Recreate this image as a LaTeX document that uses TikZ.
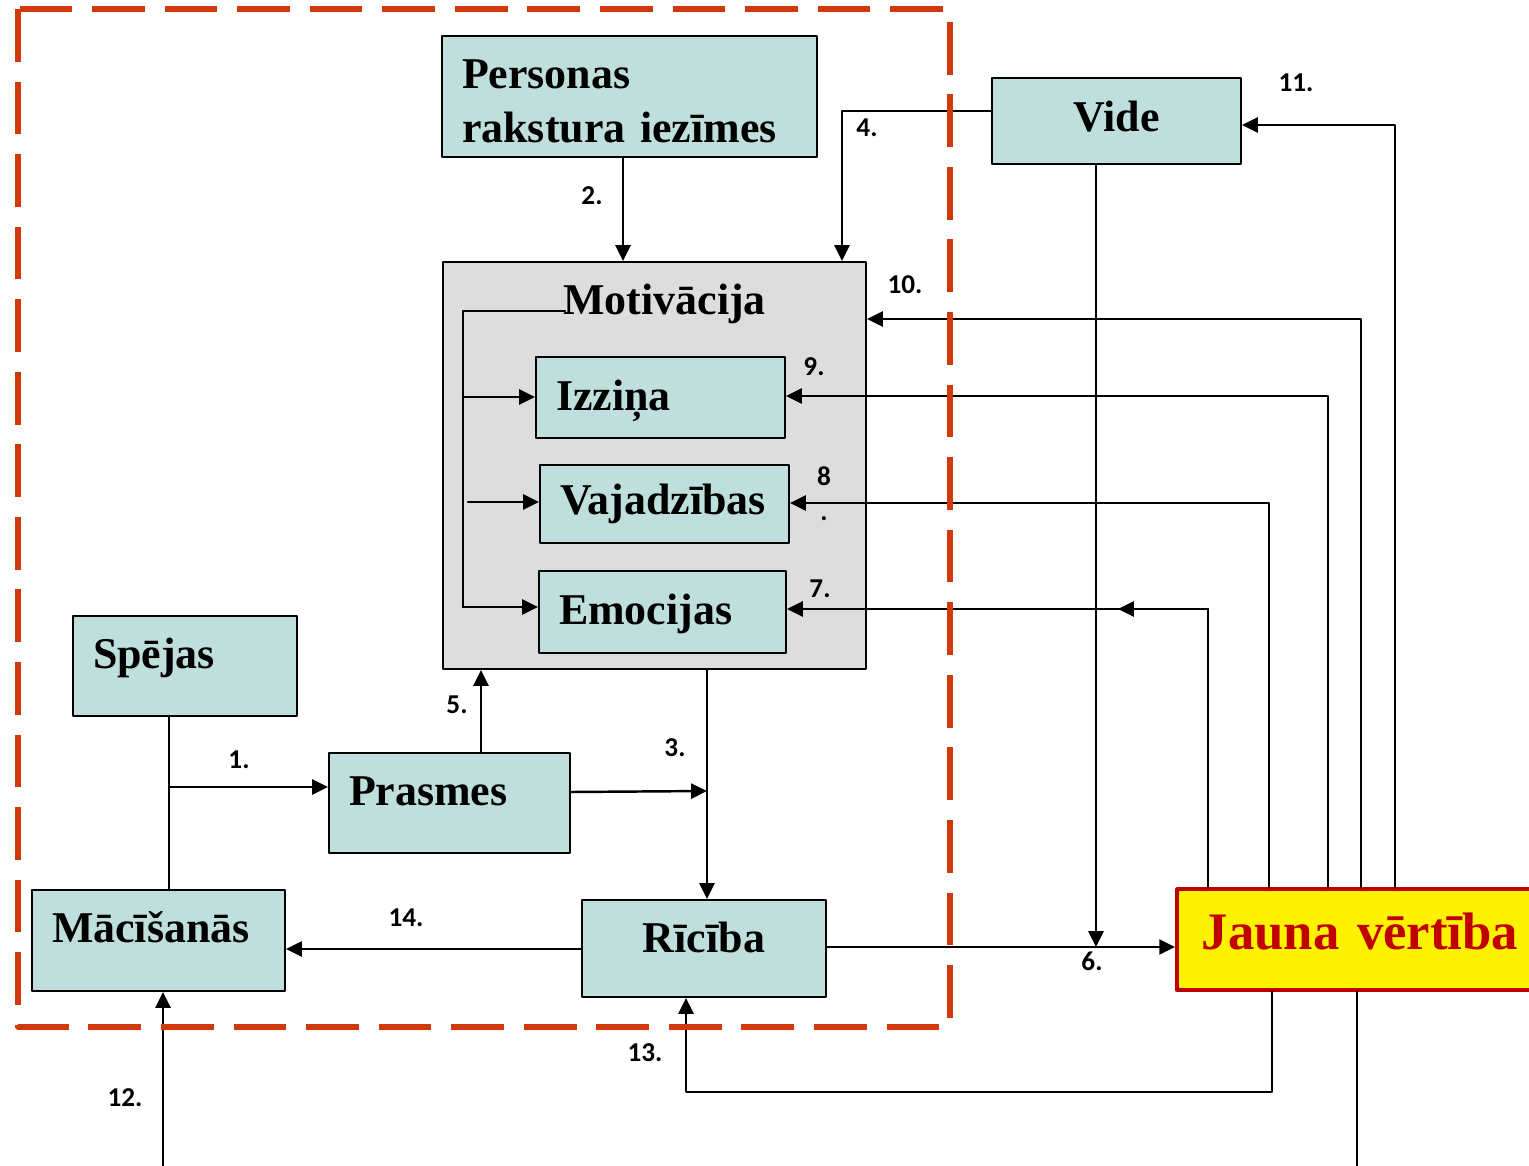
\documentclass[tikz,border=0pt]{standalone}
\usepackage{fontspec}
\setmainfont{Liberation Serif}
\newfontfamily\numfont{Carlito}
\usetikzlibrary{arrows.meta}
\definecolor{boxteal}{HTML}{BFDFDC}
\definecolor{boxgray}{HTML}{DDDDDD}
\definecolor{framered}{HTML}{D03A0A}
\definecolor{jred}{HTML}{C00000}
\begin{document}
\begin{tikzpicture}[line cap=round,line join=round,>={Triangle[length=9pt,width=8.5pt]},x=.02cm,y=-.02cm,
  box/.style={draw,line width=1.2pt,fill=boxteal,inner xsep=.4cm,inner ysep=0pt,align=left,text height=20pt,font=\bfseries\fontsize{25}{31.2}\selectfont},
  nr/.style={font=\numfont\bfseries\fontsize{15.5}{18}\selectfont,inner sep=0pt},
  frame/.style={draw=framered,line width=3.2pt,dash pattern=on 30pt off 11.3pt,line cap=butt}]
	\clip (0,0) rectangle (1529,1166);
	% boxes
	\node[box,text width=6.7cm,minimum height=2.42cm,text depth=29.6pt] (pers) at (629.5,96.5) {Personas\\rakstura iezīmes};
	\node[box,align=center,text width=4.18cm,minimum height=1.72cm,text depth=7.5pt] (vide) at (1116.5,121) {Vide};
	\node[draw,line width=1.2pt,fill=boxgray,minimum width=8.46cm,minimum height=8.14cm,inner sep=0pt] (motiv) at (654.5,465.5) {};
	\draw[line width=1.3pt] (565,311) -- (463,311) -- (463,607);
	\node[anchor=base west,inner sep=0pt,font=\bfseries\fontsize{25}{31.2}\selectfont] (motivtit) at (563,314) {Motivācija};
	\node[box,text width=4.18cm,minimum height=1.62cm,text depth=4.7pt] (izz) at (660.5,397.5) {Izziņa};
	\node[box,text width=4.18cm,minimum height=1.56cm,text depth=7.5pt] (vaj) at (664.5,504) {Vajadzības};
	\node[box,text width=4.14cm,minimum height=1.64cm,text depth=5.3pt] (emo) at (662.5,612) {Emocijas};
	\node[box,text width=3.68cm,minimum height=2cm,text depth=17.7pt] (spe) at (185,666) {Spējas};
	\node[box,text width=4.02cm,minimum height=2cm,text depth=17.7pt] (pras) at (449.5,803) {Prasmes};
	\node[box,text width=4.26cm,minimum height=2.02cm,text depth=17.7pt] (mac) at (158.5,940.5) {Mācīšanās};
	\node[box,align=center,text width=4.08cm,minimum height=1.94cm,text depth=14.9pt] (ric) at (704,948.5) {Rīcība};
	\node[box,fill=yellow,draw=jred,line width=2.2pt,text=jred,align=center,text width=6.52cm,minimum height=2.02cm,text depth=8.1pt,font=\bfseries\fontsize{30}{36}\selectfont] (jauna) at (1360,939.5) {Jauna vērtība};
	% connectors
	\begin{scope}[line width=1.4pt]
	\draw (169,0 |- spe.south) -- (169,0 |- mac.north);
	\draw[->] (169,787) -- (pras.west |- 0,787);
	\draw[->] (623,0 |- pers.south) -- (623,0 |- motiv.north);
	\draw[->] (707,0 |- motiv.south) -- (707,0 |- ric.north);
	\draw[->] (pras.east |- 0,792) -- (707,791);
	\draw[->] (vide.west |- 0,111) -- (842,111) -- (842,0 |- motiv.north);
	\draw[->] (481,0 |- pras.north) -- (481,0 |- motiv.south);
	\draw[->] (ric.east |- 0,947) -- (jauna.west |- 0,947);
	\draw[->] (1096,0 |- vide.south) -- (1096,947);
	\draw[->] (1208,0 |- jauna.north) -- (1208,609) -- (emo.east |- 0,609);
	\draw[->] (1208,609) -- (1118,609);
	\draw[->] (1269,0 |- jauna.north) -- (1269,503) -- (vaj.east |- 0,503);
	\draw[->] (1328,0 |- jauna.north) -- (1328,396) -- (izz.east |- 0,396);
	\draw[->] (1361,0 |- jauna.north) -- (1361,319) -- (motiv.east |- 0,319);
	\draw[->] (1395,0 |- jauna.north) -- (1395,125) -- (vide.east |- 0,125);
	\draw[->] (163,1166) -- (163,0 |- mac.south);
	\draw[->] (1272,0 |- jauna.south) -- (1272,1092) -- (686,1092) -- (686,0 |- ric.south);
	\draw[->] (ric.west |- 0,949) -- (mac.east |- 0,949);
	\draw (1357,0 |- jauna.south) -- (1357,1166);
	% inside Motivacija
	\draw[->] (463,607) -- (emo.west |- 0,607);
	\draw[->] (463,397) -- (izz.west |- 0,397);
	\draw[->] (468,502) -- (vaj.west |- 0,502);
	\end{scope}
	% numbers
	\node[nr] (n1) at (239,760) {1.};
	\node[nr] (n2) at (592,196) {2.};
	\node[nr] (n3) at (675,748) {3.};
	\node[nr] (n4) at (867,128) {4.};
	\node[nr] (n5) at (457,705) {5.};
	\node[nr] (n6) at (1092,961) {6.};
	\node[nr] (n7) at (820,589) {7.};
	\node[nr,align=center] (n8) at (824,494) {8\\[2pt].};
	\node[nr] (n9) at (814,367) {9.};
	\node[nr] (n10) at (905,285) {10.};
	\node[nr] (n11) at (1296,83) {11.};
	\node[nr] (n12) at (125,1098) {12.};
	\node[nr] (n13) at (645,1053) {13.};
	\node[nr] (n14) at (406,918) {14.};
	% dashed frame
	\draw[frame] (18,9) rectangle (950,1027);
\end{tikzpicture}
\end{document}
